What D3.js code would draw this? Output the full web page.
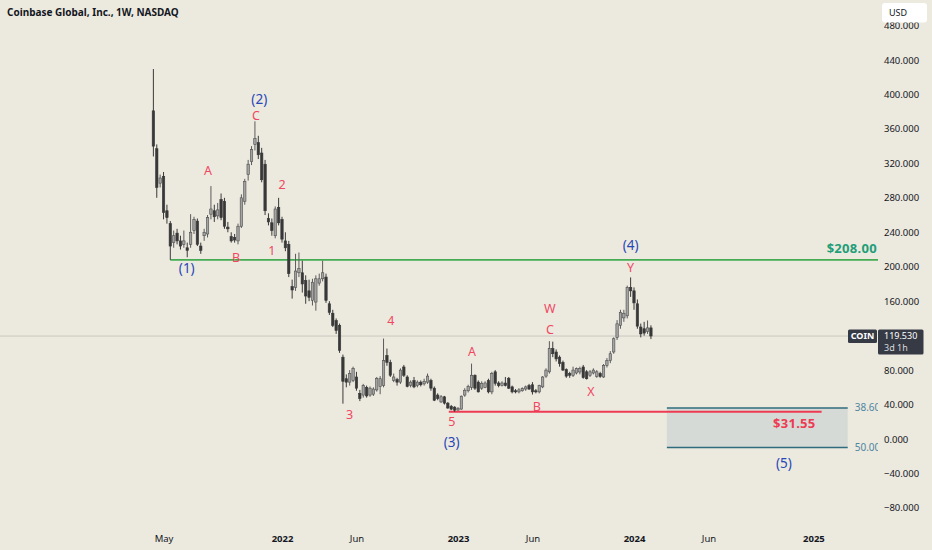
<!DOCTYPE html>
<html><head><meta charset="utf-8">
<script src="https://cdn.jsdelivr.net/npm/d3@7"></script>
<style>html,body{margin:0;padding:0;background:#ece9df;}svg{display:block;font-family:"Noto Sans",Roboto,sans-serif;}</style>
</head><body>
<svg id="chart" width="932" height="550"></svg>
<script>
// ---------- DATA ----------
const title = "Coinbase Global, Inc., 1W, NASDAQ";
const weeks = [
"2021-04-12","2021-04-19","2021-04-26","2021-05-03","2021-05-10","2021-05-17","2021-05-24","2021-05-31","2021-06-07","2021-06-14",
"2021-06-21","2021-06-28","2021-07-05","2021-07-12","2021-07-19","2021-07-26","2021-08-02","2021-08-09","2021-08-16","2021-08-23",
"2021-08-30","2021-09-06","2021-09-13","2021-09-20","2021-09-27","2021-10-04","2021-10-11","2021-10-18","2021-10-25","2021-11-01",
"2021-11-08","2021-11-15","2021-11-22","2021-11-29","2021-12-06","2021-12-13","2021-12-20","2021-12-27",
"2022-01-03","2022-01-10","2022-01-17","2022-01-24","2022-01-31","2022-02-07","2022-02-14","2022-02-21","2022-02-28","2022-03-07",
"2022-03-14","2022-03-21","2022-03-28","2022-04-04","2022-04-11","2022-04-18","2022-04-25","2022-05-02","2022-05-09","2022-05-16",
"2022-05-23","2022-05-30","2022-06-06","2022-06-13","2022-06-20","2022-06-27","2022-07-04","2022-07-11","2022-07-18","2022-07-25",
"2022-08-01","2022-08-08","2022-08-15","2022-08-22","2022-08-29","2022-09-05","2022-09-12","2022-09-19","2022-09-26","2022-10-03",
"2022-10-10","2022-10-17","2022-10-24","2022-10-31","2022-11-07","2022-11-14","2022-11-21","2022-11-28","2022-12-05","2022-12-12",
"2022-12-19","2022-12-26",
"2023-01-02","2023-01-09","2023-01-16","2023-01-23","2023-01-30","2023-02-06","2023-02-13","2023-02-20","2023-02-27","2023-03-06",
"2023-03-13","2023-03-20","2023-03-27","2023-04-03","2023-04-10","2023-04-17","2023-04-24","2023-05-01","2023-05-08","2023-05-15",
"2023-05-22","2023-05-29","2023-06-05","2023-06-12","2023-06-19","2023-06-26","2023-07-03","2023-07-10","2023-07-17","2023-07-24",
"2023-07-31","2023-08-07","2023-08-14","2023-08-21","2023-08-28","2023-09-04","2023-09-11","2023-09-18","2023-09-25","2023-10-02",
"2023-10-09","2023-10-16","2023-10-23","2023-10-30","2023-11-06","2023-11-13","2023-11-20","2023-11-27","2023-12-04","2023-12-11",
"2023-12-18","2023-12-25",
"2024-01-01","2024-01-08","2024-01-15","2024-01-22","2024-01-29","2024-02-05"];
const opens = [
381,337,297,305,265,250,228,239,230,226, 222,226,242,253,224,236,238,261,265,259,
278,276,246,235,234,230,247,276,307,322, 342,344,332,319,256,251,236,269,
255,230,226,177,176,193,193,184,172,161, 159,181,186,188,157,146,137.5,132,95,70,
66,68,72,53,51,60,51,52,57,61, 62,97,89,68,69,66,83.6,72,62.4,68,
62,66,64,66,68,59,51,43,49,41.6, 38,37,
33.8,34.7,51,56,60,74,66,59,60,68, 54.7,78,65,62,65,70.5,60.5,56,54.7,56,
58,62,63,56,54.7,60.5,73,78,105,101, 95,89,80.5,76,74,76.6,77.8,83.6,78,74,
76.6,72.6,76,72,85.5,91,101,118,132,140.6, 143,176,
172,157,130,128,125,129];
const highs = [
429.5,342,307,310,272,253,242,244,236,242, 228,261,258,256,228,244,260,293.6,272,274,
285,280,252,240,238,250,284,302,324,340, 368.8,352,338,324,262,256,270,280,
258,240,230,185,215,216.5,207,190,185,186, 190,192,207,192,160,150,140,134,98,75,
80,84,78,57,64,62,61,60,72,73, 116.6,105,92,76,71,82,86,74,68,72,
68,68,70,76,70,61,53,51,50,43, 39.5,38,
37,50.5,59,63,87.5,75,68,67,67,70, 78,80,67,67,72,72,62,58,59,60,
62,64,66,58,63,73,82,113.6,113,104, 97,91,82,78,84,83,84,86,80,80,
82,80,78,87,94,102,118,138,150,150, 178,187.6,
176,162,134,136,137.6,132];
const lows = [
328,280,292,255,250,208,222,226,220,222, 211,222,238,224,215,230,234,255,252,255,
254,244,240,228,228,226,245,272,300,318, 335,325,298,260,248,236,233,248,
228,218,188,163,172,188,170,157,160,155, 149,178,183,158,144,130,122,100,41,60,
62,66,56,44,48,48,49,50,55,52, 60,85,72,66,62,64,72,60,60,59,
60,61,62,64,56,44,45,42,40,35, 33.5,31.55,
32.5,34,49,54,57,57,54,57,59,53, 52,62,60,61,61,58,53,53,53,55,
56,57,51.6,53,53,59,71,76,95,90, 84,79,71,71,72,75,75,70,69,72,
75,71,71,71,83,88,99,115,128,136, 140,165,
150,128,118,120,122,116];
const closes = [
340,292,303,263,257,224,236,230,224,230, 219,240,255,226,219,240,257,267,258,266,
257,247,244,230,231,247,280,299,319,336, 349,330,301,265,252,242,267,251,
232,222,192,173,195,198,180,166,164.5,182, 186,186,193,161,147,132,126,103,67,66,
76,82,59,47,62,50,59,58,70.5,70, 91,89,74,72,66,80,74,61,66,60.5,
66,63,67,73,59,45,47,49,41.6,36, 34.7,33.5,
35.7,49.7,56.6,61,74,59,54.7,64.7,65,54.7, 76,64.7,62,65,62,59,54.7,54.7,57,58.5,
60.5,58,54.7,54.7,62,72,80,105,99,93, 87.5,80,73,74,80,81.7,81.7,71.3,70,78,
80,78,72.6,85.5,91,99,116.4,133.7,147,146, 176,172,
158,131,122,123,129,119.53];
const lastPrice = 119.53;
// 120.000 sits behind the last-price badge in the reference, so it is not listed
const priceTicks = [480,440,400,360,320,280,240,200,160,80,40,0,-40,-80];
const timeTicks = ["2021-05-03","2022-01-03","2022-06-06","2023-01-02","2023-06-05","2024-01-01","2024-06-03","2025-01-06"];
const timeTickLabels = ["May","2022","Jun","2023","Jun","2024","Jun","2025"];
const resistance = {value:208, from:"2021-05-17", label:"$208.00"};
const support = {value:31.55, from:"2022-12-14", to:"2025-01-23", label:"$31.55"};
const fibZone = {top:36, bottom:-10, from:"2024-03-09", to:"2025-03-18", topLabel:"38.60", bottomLabel:"50.00"};
const waveDates = ["2021-06-20","2021-09-30","2021-08-03","2021-11-17","2021-11-10","2022-01-03","2021-12-13","2022-08-16","2022-05-23","2023-01-31","2022-12-20","2022-12-20","2023-06-14","2023-07-11","2023-07-11","2023-10-04","2023-12-25","2023-12-25","2024-11-06"];
const wavePrices = [198.5,210,312,394,376,295,219,138,28,101,20,-3.5,38,126.5,151,54.5,198.5,225,-28];
const waveTexts  = ["(1)","B","A","(2)","C","2","1","4","3","A","5","(3)","B","C","W","X","Y","(4)","(5)"];
const waveDegree = ["major","minor","minor","major","minor","minor","minor","minor","minor","minor","minor","major","minor","minor","minor","minor","minor","major","major"];

// ---------- CHART ----------
const W = 932, H = 550, plotRight = 878;
const svg = d3.select("#chart");
const parse = d3.utcParse("%Y-%m-%d");
const x = d3.scaleUtc().domain([parse("2022-01-03"), parse("2024-01-01")]).range([282, 634]);
const y = d3.scaleLinear().domain([0, 440]).range([439, 60]);

svg.append("rect").attr("width", W).attr("height", H).attr("fill", "#ece9df");

const defs = svg.append("defs");
defs.append("clipPath").attr("id","plotclip").append("rect").attr("x",0).attr("y",0).attr("width",plotRight).attr("height",520);

const plot = svg.append("g").attr("clip-path","url(#plotclip)");

// last price line
plot.append("line").attr("x1",0).attr("x2",848).attr("y1",y(lastPrice)).attr("y2",y(lastPrice))
  .attr("stroke","#c9c7c0").attr("stroke-width",1);

// fib zone
const fx0 = x(parse(fibZone.from)), fx1 = x(parse(fibZone.to));
plot.append("rect").attr("x",fx0).attr("y",y(fibZone.top)).attr("width",fx1-fx0).attr("height",y(fibZone.bottom)-y(fibZone.top))
  .attr("fill","#d6dad6");
[fibZone.top, fibZone.bottom].forEach(v=>{
  plot.append("line").attr("x1",fx0).attr("x2",fx1).attr("y1",y(v)).attr("y2",y(v)).attr("stroke","#2f6b7c").attr("stroke-width",1.5);
});
plot.append("text").attr("x",fx1+7).attr("y",y(fibZone.top)).attr("dy","0.35em").attr("font-size",10).attr("fill","#4f86a0").text(fibZone.topLabel);
plot.append("text").attr("x",fx1+7).attr("y",y(fibZone.bottom)).attr("dy","0.35em").attr("font-size",10).attr("fill","#4f86a0").text(fibZone.bottomLabel);

// resistance
plot.append("line").attr("x1",x(parse(resistance.from))).attr("x2",plotRight).attr("y1",y(resistance.value)).attr("y2",y(resistance.value))
  .attr("stroke","#45ab52").attr("stroke-width",1.6);
plot.append("text").attr("x",plotRight-1).attr("y",y(resistance.value)-7).attr("text-anchor","end")
  .attr("font-size",13).attr("font-weight","bold").attr("fill","#1f9e78").attr("letter-spacing","0.3").text(resistance.label);

// support
const sx1 = x(parse(support.to));
plot.append("line").attr("x1",x(parse(support.from))).attr("x2",sx1).attr("y1",y(support.value)).attr("y2",y(support.value))
  .attr("stroke","#ee3a52").attr("stroke-width",2);
plot.append("text").attr("x",sx1-6).attr("y",y(support.value)+16).attr("text-anchor","end")
  .attr("font-size",13).attr("font-weight","bold").attr("fill","#ee3a52").attr("letter-spacing","0.3").text(support.label);

// candles
const candles = weeks.map((w,i)=>({d:parse(w),o:opens[i],h:highs[i],l:lows[i],c:closes[i]}));
const bw = 2.4;
const cg = plot.append("g");
candles.forEach(k=>{
  const cx = x(k.d);
  const up = k.c >= k.o;
  cg.append("line").attr("x1",cx).attr("x2",cx).attr("y1",y(k.h)).attr("y2",y(k.l))
    .attr("stroke", up ? "#5a5a5a" : "#3a3a3a").attr("stroke-width",1);
  const top = y(Math.max(k.o,k.c)), bot = y(Math.min(k.o,k.c));
  cg.append("rect").attr("x",cx-bw/2).attr("y",top).attr("width",bw).attr("height",Math.max(1,bot-top))
    .attr("fill", up ? "#a3a3a1" : "#383838").attr("stroke", up ? "#4e4e4e" : "#383838").attr("stroke-width",0.6);
});

// wave labels
waveTexts.forEach((t,i)=>{
  plot.append("text").attr("x",x(parse(waveDates[i]))).attr("y",y(wavePrices[i])).attr("dy","0.35em")
    .attr("text-anchor","middle").attr("font-size",waveDegree[i]==="major"?13.5:12.5)
    .attr("fill", waveDegree[i]==="major" ? "#2747b8" : "#f0475f").text(t);
});

// title
svg.append("text").attr("x",7).attr("y",16).attr("font-size",10).attr("font-weight","bold").attr("fill","#131722").text(title);

// y axis
const yAxis = d3.axisRight(y).tickValues(priceTicks).tickSize(0).tickPadding(0).tickFormat(d3.format(".3f"));
const ya = svg.append("g").attr("transform",`translate(884,0)`).call(yAxis);
ya.select(".domain").remove();
ya.selectAll("text").attr("font-size",9.5).attr("fill","#131722").attr("font-family","'Noto Sans',sans-serif");

// x axis
const xAxis = d3.axisBottom(x).tickValues(timeTicks.map(parse)).tickSize(0).tickPadding(0)
  .tickFormat((d,i)=>timeTickLabels[i]);
const xa = svg.append("g").attr("transform","translate(0,535)").call(xAxis);
xa.select(".domain").remove();
xa.selectAll("text").attr("font-size",9.5).attr("fill","#131722").attr("font-family","'Noto Sans',sans-serif")
  .attr("font-weight",(d,i)=>/^\d{4}$/.test(timeTickLabels[i])?"bold":"normal");

// USD box
svg.append("rect").attr("x",882).attr("y",3).attr("width",45).attr("height",19.5).attr("rx",3).attr("fill","#ffffff");
svg.append("text").attr("x",889).attr("y",12.5).attr("dy","0.35em").attr("font-size",9).attr("fill","#131722").text("USD");

// COIN + price label
const py = y(lastPrice);
svg.append("rect").attr("x",848).attr("y",py-6.5).attr("width",29).attr("height",13.5).attr("rx",1.5).attr("fill","#363a45");
svg.append("text").attr("x",862.5).attr("y",py).attr("dy","0.35em").attr("text-anchor","middle").attr("font-size",9).attr("font-weight","bold").attr("fill","#ffffff").text("COIN");
svg.append("rect").attr("x",878).attr("y",py-6.5).attr("width",45.5).attr("height",25).attr("rx",1.5).attr("fill","#363a45");
svg.append("text").attr("x",884).attr("y",py-0.5).attr("dy","0.35em").attr("font-size",9).attr("fill","#ffffff").text(d3.format(".3f")(lastPrice));
svg.append("text").attr("x",884).attr("y",py+11.5).attr("dy","0.35em").attr("font-size",9).attr("fill","#d8d9dc").text("3d 1h");
</script>
</body></html>
